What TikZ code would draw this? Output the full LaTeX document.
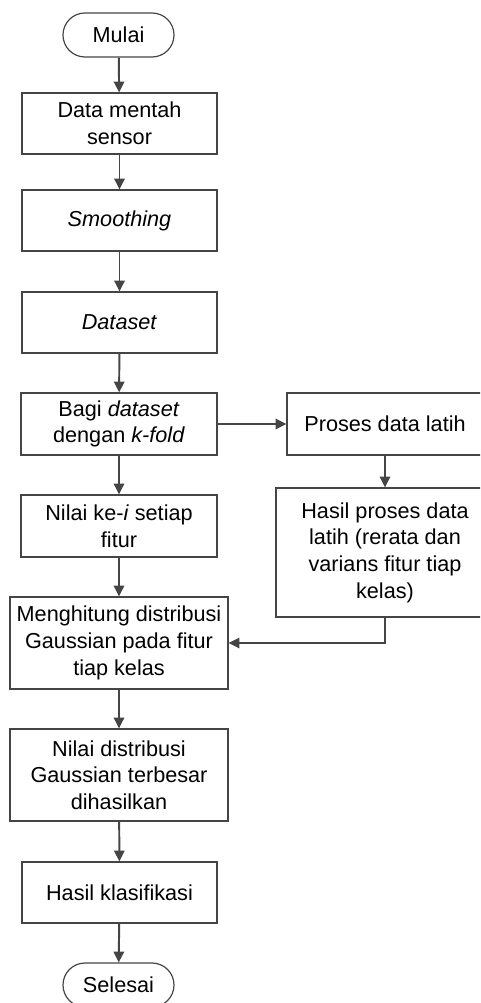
\documentclass[tikz,border=0pt]{standalone}
\usepackage{fontspec}
\setmainfont{Liberation Sans}
\usetikzlibrary{arrows.meta,shapes.misc}
\definecolor{garis}{HTML}{454545}
\tikzset{
	kotak/.style={draw=garis, line width=0.85pt, align=center, inner sep=0pt,
		font=\fontsize{15.4pt}{19pt}\selectfont},
	ujung/.style={kotak, rounded rectangle, minimum width=2.775cm, minimum height=1.1cm},
	panah/.style={draw=garis, line width=1.4pt, -{Triangle[length=0.27cm, width=0.26cm]}}
}

\begin{document}
\begin{tikzpicture}[x=0.025cm, y=-0.025cm]
			%%%%% START %%%%%
			\useasboundingbox (0, 0) rectangle (480, 1003);
			\clip (0, 0) rectangle (480, 1003);
			
			\node[ujung] (mulai) at (118.5, 35) {Mulai};
			\node[kotak, minimum width=4.875cm, minimum height=1.525cm] (data) at (119.5, 123.5) {Data mentah\\sensor};
			\node[kotak, minimum width=4.875cm, minimum height=1.525cm] (smooth) at (119.5, 220.5) {\textit{Smoothing}};
			\node[kotak, minimum width=4.875cm, minimum height=1.525cm] (dataset) at (119.5, 322.5) {\textit{Dataset}};
			\node[kotak, minimum width=4.9cm, minimum height=1.55cm] (bagi) at (119, 424) {Bagi \textit{dataset}\\dengan \textit{k-fold}};
			
			\node[kotak, minimum width=4.9cm, minimum height=1.55cm] (proses) at (385, 424) {Proses data latih};
			\node[kotak, minimum width=5.45cm, minimum height=3.225cm] (hasil) at (385, 552.5) {Hasil proses data\\latih (rerata dan\\varians fitur tiap\\kelas)};
			
			\node[kotak, minimum width=4.9cm, minimum height=1.55cm] (nilai) at (119, 526) {Nilai ke-\textit{i} setiap\\fitur};
			\node[kotak, minimum width=5.45cm, minimum height=2.3cm] (hitung) at (119, 643) {Menghitung distribusi\\Gaussian pada fitur\\tiap kelas};
			\node[kotak, minimum width=5.45cm, minimum height=2.3cm] (terbesar) at (119, 775) {Nilai distribusi\\Gaussian terbesar\\dihasilkan};
			\node[kotak, minimum width=4.875cm, minimum height=1.525cm] (klasifikasi) at (119.5, 892.5) {Hasil klasifikasi};
			\node[ujung] (selesai) at (118.5, 985) {Selesai};
			
			\draw[panah] (mulai) -- (data);
			\draw[panah] (data) -- (smooth);
			\draw[panah] (smooth) -- (dataset);
			\draw[panah] (dataset) -- (bagi);
			\draw[panah] (bagi) -- (nilai);
			\draw[panah] (nilai) -- (hitung);
			\draw[panah] (hitung) -- (terbesar);
			\draw[panah] (terbesar) -- (klasifikasi);
			\draw[panah] (klasifikasi) -- (selesai);
			
			\draw[panah] (bagi) -- (proses);
			\draw[panah] (proses) -- (hasil);
			\draw[panah] (hasil.south) |- (hitung.east);
			%%%%% END %%%%%
\end{tikzpicture}
\end{document}
